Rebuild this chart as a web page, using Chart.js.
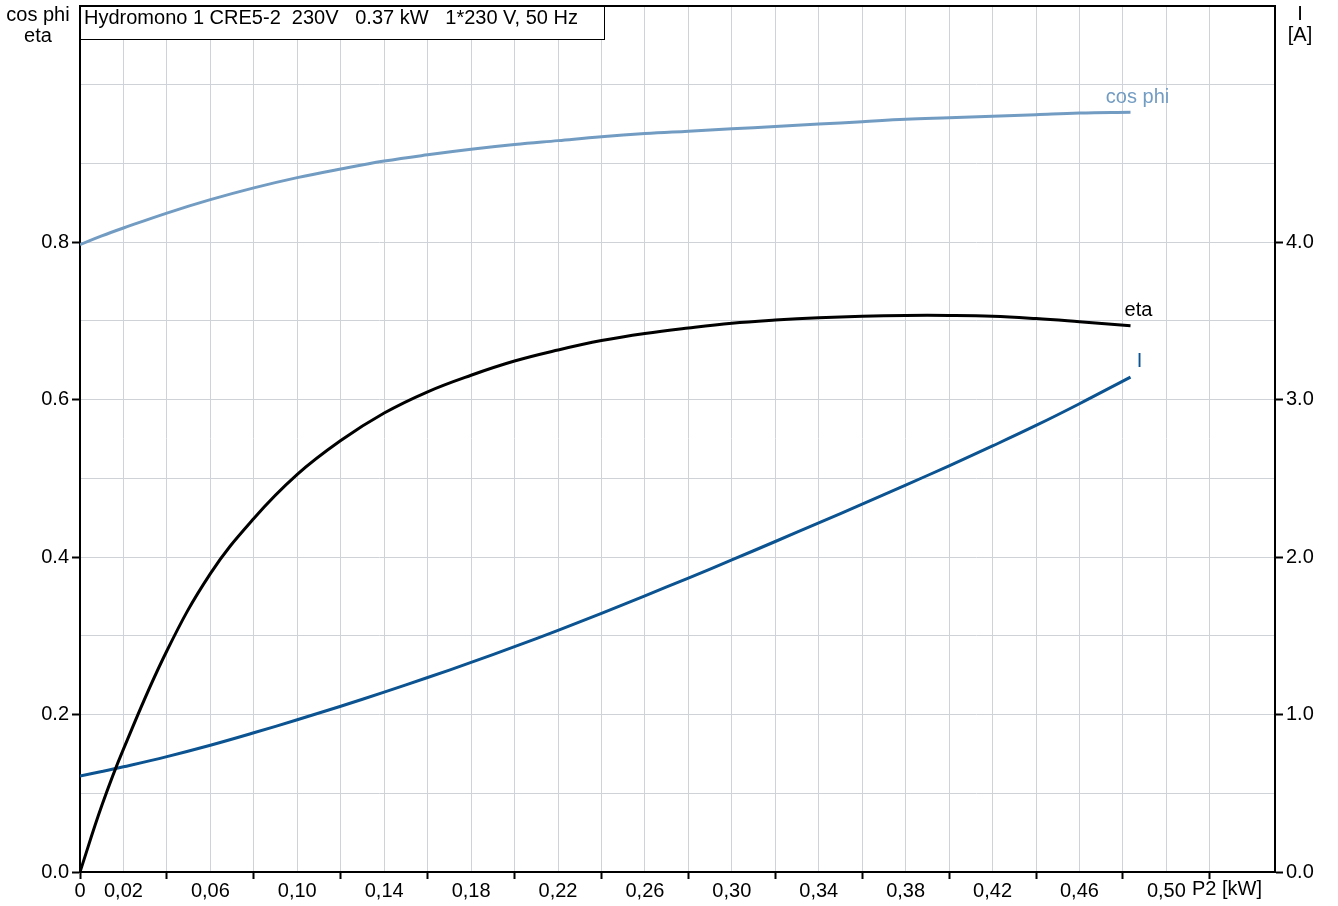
<!DOCTYPE html>
<html>
<head>
<meta charset="utf-8">
<script src="https://cdn.jsdelivr.net/npm/chart.js@4.4.1/dist/chart.umd.min.js"></script>
<style>
    body { margin: 0; background: #fff; }
    #wrap { width: 1338px; height: 906px; }
</style>
</head>
<body>
<div id="wrap"><canvas id="grafica" width="1338" height="906"></canvas></div>
<script>
// P2 [kW]
const p2 = [0, 0.01, 0.02, 0.04, 0.06, 0.08, 0.10, 0.12, 0.14, 0.16, 0.18, 0.20, 0.22,
    0.24, 0.26, 0.28, 0.30, 0.32, 0.34, 0.36, 0.38, 0.40, 0.42, 0.44, 0.46, 0.4835];

const eta = [0, 0.084, 0.156, 0.281, 0.379, 0.449, 0.505, 0.548, 0.583, 0.610, 0.631, 0.649, 0.663,
    0.675, 0.684, 0.691, 0.697, 0.701, 0.704, 0.706, 0.707, 0.707, 0.706, 0.703, 0.699, 0.694];

const cosPhi = [0.797, 0.808, 0.818, 0.837, 0.854, 0.869, 0.882, 0.893, 0.903, 0.911, 0.918, 0.924, 0.929,
    0.934, 0.938, 0.941, 0.944, 0.947, 0.950, 0.953, 0.956, 0.958, 0.960, 0.962, 0.964, 0.965];

// I [A]
const corriente = [0.61, 0.638, 0.668, 0.733, 0.805, 0.884, 0.967, 1.053, 1.142, 1.235, 1.331, 1.431, 1.535,
    1.643, 1.754, 1.867, 1.982, 2.099, 2.217, 2.336, 2.457, 2.580, 2.706, 2.836, 2.974, 3.143];

const titulo = 'Hydromono 1 CRE5-2  230V   0.37 kW   1*230 V, 50 Hz';
const tituloIzq = ['cos phi', 'eta'];
const tituloDer = ['I', '[A]'];
const tituloX = 'P2 [kW]';
const nombres = ['cos phi', 'eta', 'I'];

const FUENTE = '"Liberation Sans", Arial, sans-serif';
const TAM = 20;
const colCos = '#739cc3';
const colEta = '#000000';
const colI = '#0b5391';
const gris = '#cfd3d7';

function puntos(ys) {
    return p2.map((x, i) => ({ x: x, y: ys[i] }));
}

function sinPadding(s) {
    s.paddingTop = 0;
    s.paddingBottom = 0;
}

const extras = {
    id: 'extras',
    afterDraw(chart) {
        const c = chart.ctx;
        const a = chart.chartArea;
        const sx = chart.scales.x, sy = chart.scales.y, sy2 = chart.scales.y2;
        c.save();
        // borde superior
        c.strokeStyle = '#000';
        c.lineWidth = 2;
        c.beginPath();
        c.moveTo(a.left, a.top);
        c.lineTo(a.right, a.top);
        c.stroke();

        // caja del titulo
        c.fillStyle = '#fff';
        c.fillRect(a.left, a.top, 525, 34);
        c.lineWidth = 1;
        c.strokeRect(a.left + 0.5, a.top + 0.5, 524, 33);
        c.fillStyle = '#000';
        c.font = TAM + 'px ' + FUENTE;
        c.textBaseline = 'middle';
        c.textAlign = 'left';
        c.fillText(titulo, a.left + 4, a.top + 12);

        // titulos de ejes
        c.textAlign = 'center';
        c.fillText(tituloIzq[0], 38, 15);
        c.fillText(tituloIzq[1], 38, 36);
        c.fillText(tituloDer[0], 1300, 14);
        c.fillText(tituloDer[1], 1300, 35);
        c.fillText(tituloX, 1227, 889);

        // nombres de las curvas
        const n = p2.length - 1;
        const xf = sx.getPixelForValue(p2[n]);
        c.fillStyle = colCos;
        c.fillText(nombres[0], xf + 7, sy.getPixelForValue(cosPhi[n]) - 15);
        c.fillStyle = colEta;
        c.fillText(nombres[1], xf + 8, sy.getPixelForValue(eta[n]) - 15);
        c.fillStyle = colI;
        c.fillText(nombres[2], xf + 9, sy2.getPixelForValue(corriente[n]) - 16);
        c.restore();
    }
};

function etiquetaX(v) {
    if (Math.abs(v) < 1e-9) return '0';
    const k = Math.round(v / 0.02);
    if (Math.abs(v - k * 0.02) > 1e-6) return '';
    if (k % 2 === 1 && k <= 25) return v.toFixed(2).replace('.', ',');
    return '';
}

const ctx = document.getElementById('grafica').getContext('2d');
new Chart(ctx, {
    type: 'line',
    data: {
        datasets: [
            { label: 'cos phi', data: puntos(cosPhi), borderColor: colCos, yAxisID: 'y' },
            { label: 'eta', data: puntos(eta), borderColor: colEta, yAxisID: 'y' },
            { label: 'I', data: puntos(corriente), borderColor: colI, yAxisID: 'y2' }
        ]
    },
    options: {
        responsive: false,
        animation: false,
        layout: { padding: { top: 6, left: 0, right: 0, bottom: 0 } },
        elements: {
            point: { radius: 0 },
            line: { borderWidth: 3, tension: 0.4, fill: false }
        },
        plugins: { legend: { display: false }, tooltip: { enabled: false } },
        scales: {
            x: {
                type: 'linear',
                min: 0,
                max: 0.55,
                afterFit: s => { s.height = 34; s.paddingLeft = 0; s.paddingRight = 0; },
                border: { color: '#000', width: 2 },
                grid: {
                    color: gris,
                    lineWidth: 1,
                    tickLength: 7,
                    tickWidth: 2,
                    tickColor: c => {
                        const v = c.tick ? c.tick.value : 0;
                        const k = Math.round(v / 0.02);
                        if (Math.abs(v - k * 0.02) > 1e-6) return 'rgba(0,0,0,0)';
                        return (k % 2 === 0 && k <= 26) ? '#000' : 'rgba(0,0,0,0)';
                    }
                },
                ticks: {
                    stepSize: 0.02,
                    autoSkip: false,
                    maxRotation: 0,
                    padding: 0,
                    color: '#000',
                    font: { family: FUENTE, size: TAM },
                    callback: v => etiquetaX(v)
                }
            },
            y: {
                position: 'left',
                min: 0,
                max: 1.1,
                afterFit: s => { s.width = 80; sinPadding(s); },
                border: { color: '#000', width: 2 },
                grid: {
                    color: gris,
                    lineWidth: 1,
                    tickLength: 8,
                    tickWidth: 2,
                    tickColor: c => {
                        const k = Math.round((c.tick ? c.tick.value : 0) * 10);
                        return (k % 2 === 0 && k <= 8) ? '#000' : 'rgba(0,0,0,0)';
                    }
                },
                ticks: {
                    stepSize: 0.1,
                    autoSkip: false,
                    padding: 3,
                    color: '#000',
                    font: { family: FUENTE, size: TAM },
                    callback: v => {
                        const k = Math.round(v * 10);
                        return (k % 2 === 0 && k <= 8) ? (k / 10).toFixed(1) : '';
                    }
                }
            },
            y2: {
                position: 'right',
                min: 0,
                max: 5.5,
                afterFit: s => { s.width = 63; sinPadding(s); },
                border: { color: '#000', width: 2 },
                grid: {
                    drawOnChartArea: false,
                    tickLength: 8,
                    tickWidth: 2,
                    tickColor: c => {
                        const k = Math.round((c.tick ? c.tick.value : 0) * 2);
                        return (k % 2 === 0 && k <= 8) ? '#000' : 'rgba(0,0,0,0)';
                    }
                },
                ticks: {
                    stepSize: 0.5,
                    autoSkip: false,
                    padding: 3,
                    color: '#000',
                    font: { family: FUENTE, size: TAM },
                    callback: v => {
                        const k = Math.round(v * 2);
                        return (k % 2 === 0 && k <= 8) ? (k / 2).toFixed(1) : '';
                    }
                }
            }
        }
    },
    plugins: [extras]
});
</script>
</body>
</html>
